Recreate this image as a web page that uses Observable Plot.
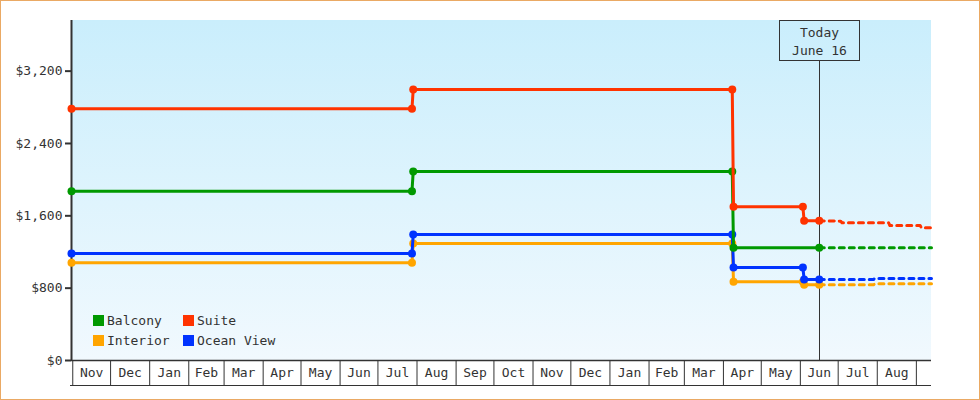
<!DOCTYPE html>
<html><head><meta charset="utf-8">
<script src="https://cdn.jsdelivr.net/npm/d3@7"></script>
<script src="https://cdn.jsdelivr.net/npm/@observablehq/plot@0.6"></script>
<style>
html,body{margin:0;padding:0;background:#fff;}
#wrap{position:relative;width:980px;height:400px;overflow:hidden;}
#wrap svg{display:block;}
#border{position:absolute;left:0;top:0;width:980px;height:400px;box-sizing:border-box;border:1px solid #eaa964;pointer-events:none;}
</style></head><body>
<div id="wrap"><div id="border"></div></div>
<script>
// ---- data ----
const seriesNames = ["Interior", "Ocean View", "Balcony", "Suite"];
const seriesColors = ["#ffa500", "#0033ff", "#009900", "#ff3300"];
const legendOrder = ["Balcony", "Suite", "Interior", "Ocean View"];

const interiorDates = ["2012-10-31", "2013-07-28", "2013-07-29", "2014-04-08", "2014-04-09", "2014-06-03", "2014-06-04", "2014-06-16"];
const interiorPrices = [1081, 1081, 1294, 1294, 870, 870, 837, 837];
const oceanViewDates = ["2012-10-31", "2013-07-28", "2013-07-29", "2014-04-08", "2014-04-09", "2014-06-03", "2014-06-04", "2014-06-16"];
const oceanViewPrices = [1183, 1183, 1394, 1394, 1029, 1029, 896, 896];
const balconyDates = ["2012-10-31", "2013-07-28", "2013-07-29", "2014-04-08", "2014-04-09", "2014-06-16"];
const balconyPrices = [1873, 1873, 2090, 2090, 1246, 1246];
const suiteDates = ["2012-10-31", "2013-07-28", "2013-07-29", "2014-04-08", "2014-04-09", "2014-06-03", "2014-06-04", "2014-06-16"];
const suitePrices = [2784, 2784, 2997, 2997, 1700, 1700, 1545, 1545];

const interiorForecastDates = ["2014-06-16", "2014-07-29", "2014-07-30", "2014-09-13"];
const interiorForecast = [837, 837, 848, 848];
const oceanViewForecastDates = ["2014-06-16", "2014-07-29", "2014-07-30", "2014-09-13"];
const oceanViewForecast = [896, 896, 907, 907];
const balconyForecastDates = ["2014-06-16", "2014-09-13"];
const balconyForecast = [1246, 1246];
const suiteForecastDates = ["2014-06-16", "2014-07-03", "2014-07-04", "2014-08-10", "2014-08-11", "2014-09-04", "2014-09-05", "2014-09-13"];
const suiteForecast = [1545, 1541, 1523, 1523, 1493, 1493, 1468, 1468];

const yTicks = [0, 800, 1600, 2400, 3200];
const xDomain = ["2012-10-31", "2014-09-13"];
const yDomain = [0, 3760];
const todayDate = "2014-06-16";
const todayLabel = ["Today", "June 16"];

// ---- build ----
const parse = d3.utcParse("%Y-%m-%d");
const colorOf = name => seriesColors[seriesNames.indexOf(name)];
const rows = (name, dates, prices) => dates.map((d, i) => ({series: name, date: parse(d), price: prices[i]}));
const actual = {
  "Interior": rows("Interior", interiorDates, interiorPrices),
  "Ocean View": rows("Ocean View", oceanViewDates, oceanViewPrices),
  "Balcony": rows("Balcony", balconyDates, balconyPrices),
  "Suite": rows("Suite", suiteDates, suitePrices)
};
const forecast = {
  "Interior": rows("Interior", interiorForecastDates, interiorForecast),
  "Ocean View": rows("Ocean View", oceanViewForecastDates, oceanViewForecast),
  "Balcony": rows("Balcony", balconyForecastDates, balconyForecast),
  "Suite": rows("Suite", suiteForecastDates, suiteForecast)
};
const x0 = parse(xDomain[0]), x1 = parse(xDomain[1]);
const today = parse(todayDate);
const monthStarts = d3.utcMonth.range(d3.utcMonth.ceil(x0), x1);
const fullMonths = monthStarts.filter(m => d3.utcMonth.offset(m, 1) <= x1);
const monthMids = fullMonths.map(m => new Date((+m + +d3.utcMonth.offset(m, 1)) / 2));

const FONT = "'DejaVu Sans Mono', monospace";
const INK = "#333";

function bgMark(index, scales, values, dims) {
  const g = d3.create("svg:g");
  const lg = g.append("defs").append("linearGradient").attr("id", "bgGrad")
    .attr("x1", 0).attr("y1", 0).attr("x2", 0).attr("y2", 1);
  lg.append("stop").attr("offset", "0%").attr("stop-color", "#caeefc");
  lg.append("stop").attr("offset", "100%").attr("stop-color", "#f1f9fe");
  g.append("rect")
    .attr("x", dims.marginLeft).attr("y", dims.marginTop)
    .attr("width", dims.width - dims.marginLeft - dims.marginRight)
    .attr("height", dims.height - dims.marginTop - dims.marginBottom)
    .attr("fill", "url(#bgGrad)");
  return g.node();
}

function xPos(scales, dims, v) {
  if (scales && typeof scales.x === "function") return scales.x(v);
  return d3.scaleUtc([x0, x1], [dims.marginLeft, dims.width - dims.marginRight])(v);
}

function todayMark(index, scales, values, dims) {
  const g = d3.create("svg:g");
  const x = Math.round(xPos(scales, dims, today)) + 0.5;
  const top = dims.marginTop + 0.5, boxH = 40, boxW = 80;
  g.append("line").attr("x1", x).attr("x2", x)
    .attr("y1", top + boxH).attr("y2", dims.height - dims.marginBottom)
    .attr("stroke", INK).attr("stroke-width", 1);
  g.append("rect").attr("x", x - boxW / 2).attr("y", top)
    .attr("width", boxW).attr("height", boxH)
    .attr("fill", "none").attr("stroke", INK).attr("stroke-width", 1);
  todayLabel.forEach((t, i) => {
    g.append("text").attr("x", x).attr("y", top + 11.5 + i * 18.5)
      .attr("text-anchor", "middle").attr("dy", "0.35em")
      .attr("font-family", FONT).attr("font-size", 13).attr("fill", INK).text(t);
  });
  return g.node();
}

function bottomLineMark(index, scales, values, dims) {
  const y = dims.height - dims.marginBottom + 25.5;
  const g = d3.create("svg:g");
  g.append("line").attr("x1", dims.marginLeft - 1).attr("x2", dims.width - dims.marginRight)
    .attr("y1", y).attr("y2", y).attr("stroke", INK).attr("stroke-width", 1);
  return g.node();
}

function legendMark(index, scales, values, dims) {
  const g = d3.create("svg:g").attr("font-family", FONT).attr("font-size", 13)
    .attr("fill", INK).attr("text-anchor", "start");
  legendOrder.forEach((name, i) => {
    const col = i % 2, row = Math.floor(i / 2);
    const x = dims.marginLeft + 22 + col * 90;
    const y = dims.height - dims.marginBottom - 45 + row * 20;
    g.append("rect").attr("x", x).attr("y", y).attr("width", 11).attr("height", 11).attr("fill", colorOf(name));
    g.append("text").attr("x", x + 14).attr("y", y + 5.5).attr("dy", "0.35em")
      .attr("text-anchor", "start").text(name);
  });
  return g.node();
}

const chart = Plot.plot({
  width: 980,
  height: 400,
  marginLeft: 71,
  marginRight: 49,
  marginTop: 20,
  marginBottom: 40,
  style: {fontFamily: FONT, fontSize: "13px", color: INK, background: "transparent", overflow: "visible"},
  x: {type: "utc", domain: [x0, x1], label: null},
  y: {domain: yDomain, label: null},
  marks: [
    bgMark,
    todayMark,
    Plot.ruleX([x0], {stroke: INK, strokeWidth: 2}),
    Plot.ruleY([0], {stroke: INK, strokeWidth: 1.5}),
    Plot.axisY({ticks: yTicks, tickSize: 6, tickPadding: 3, strokeWidth: 2, stroke: INK, fill: INK, label: null,
      tickFormat: d => "$" + d3.format(",")(d)}),
    Plot.axisX({ticks: monthStarts, tickSize: 25, tickPadding: 0, stroke: INK, strokeWidth: 1, label: null,
      tickFormat: () => ""}),
    Plot.axisX({ticks: monthMids, tickSize: 0, tickPadding: 7, fill: INK, label: null, tickFormat: d3.utcFormat("%b")}),
    bottomLineMark,
    ...seriesNames.map(name =>
      Plot.line(forecast[name], {x: "date", y: "price", stroke: colorOf(name), strokeWidth: 3, strokeDasharray: "5,5"})),
    ...seriesNames.flatMap(name => [
      Plot.line(actual[name], {x: "date", y: "price", stroke: colorOf(name), strokeWidth: 3}),
      Plot.dot(actual[name], {x: "date", y: "price", fill: colorOf(name), r: 4})
    ]),
    legendMark
  ]
});
document.getElementById("wrap").insertBefore(chart, document.getElementById("border"));
</script>
</body></html>
